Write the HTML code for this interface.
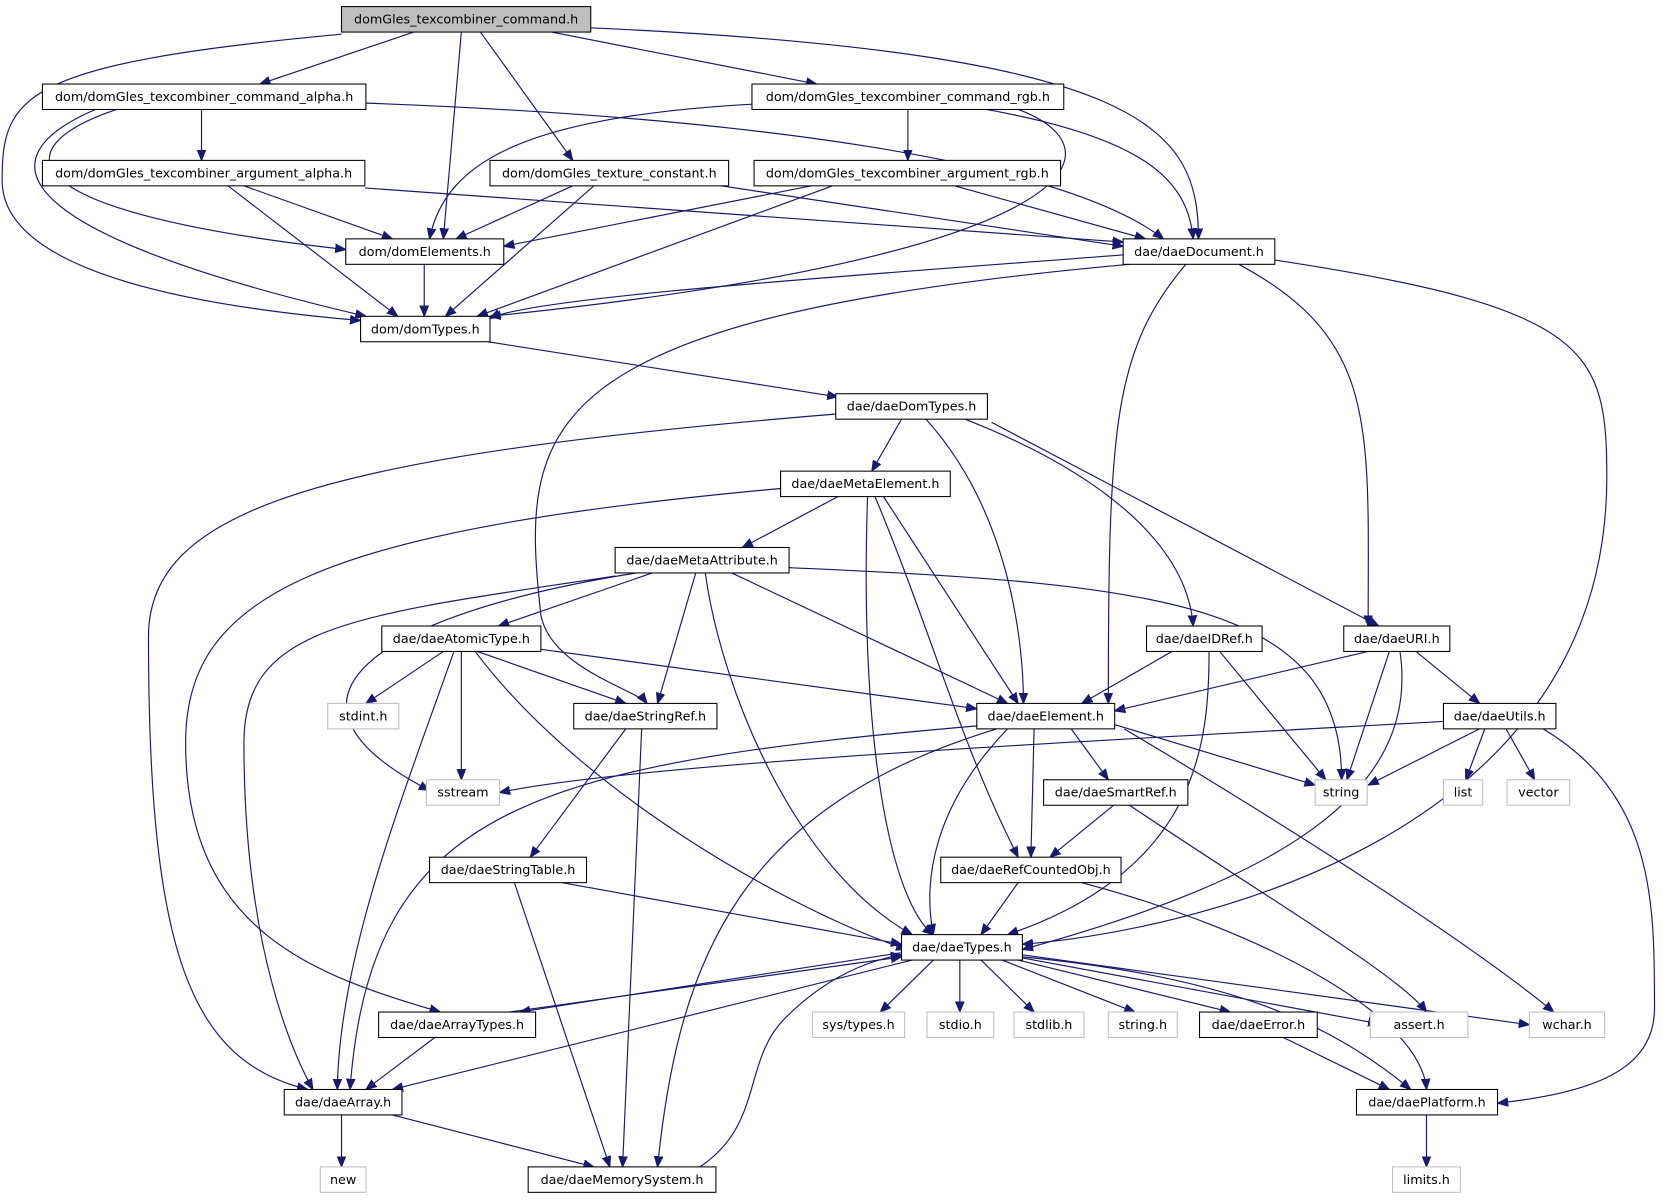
<!DOCTYPE html>
<html><head><meta charset="utf-8"><style>
html,body{margin:0;padding:0;background:#fff}
svg{display:block}
text{font-family:"DejaVu Sans","Liberation Sans",sans-serif;font-size:12px;fill:#000}
.n{fill:#fff;stroke:#000;stroke-width:1}
.g{fill:#fff;stroke:#bfbfbf;stroke-width:1}
.e{fill:none;stroke:#191970;stroke-width:1.1;marker-end:url(#a)}
</style></head><body>
<svg width="1663" height="1200" viewBox="0 0 1568 1131" xmlns="http://www.w3.org/2000/svg">
<defs><marker id="a" viewBox="0 0 10 10" refX="10" refY="5" markerWidth="10" markerHeight="10" markerUnits="userSpaceOnUse" orient="auto"><path d="M0,1 L10,5 L0,9 z" fill="#191970" stroke="#191970"/></marker></defs>
<g>
<path class="e" d="M390,30 L245,79"/>
<path class="e" d="M520,30 L770,79"/>
<path class="e" d="M435,30 L418,225"/>
<path class="e" d="M453,30 L540,151"/>
<path class="e" d="M557,26 C1080,50 1130,120 1130,225"/>
<path class="e" d="M322,32 C20,60 2,90 2,170 C2,260 200,290 340,302"/>
<path class="e" d="M190,103 L190,151"/>
<path class="e" d="M345,97 C700,110 1000,150 1097,225"/>
<path class="e" d="M110,103 C0,140 10,200 326,235"/>
<path class="e" d="M90,103 C-20,150 10,220 345,298"/>
<path class="e" d="M856,103 L856,151"/>
<path class="e" d="M709,98 C500,110 420,150 405,225"/>
<path class="e" d="M930,103 C1080,130 1120,170 1125,225"/>
<path class="e" d="M960,103 C1060,140 1030,240 462,298"/>
<path class="e" d="M230,175 L370,225"/>
<path class="e" d="M215,175 L375,298"/>
<path class="e" d="M344,177 L1059,228"/>
<path class="e" d="M540,175 L430,225"/>
<path class="e" d="M560,175 L420,298"/>
<path class="e" d="M680,175 L1059,232"/>
<path class="e" d="M765,175 L475,232"/>
<path class="e" d="M785,175 L450,298"/>
<path class="e" d="M900,175 L1080,225"/>
<path class="e" d="M400,249 L400,298"/>
<path class="e" d="M1060,240 C800,260 500,280 462,300"/>
<path class="e" d="M1065,249 C500,300 490,400 510,580 C520,630 600,650 610,663"/>
<path class="e" d="M1118,249 C1050,330 1045,400 1045,663"/>
<path class="e" d="M1168,249 C1300,320 1290,400 1290,590"/>
<path class="e" d="M1202,245 C1500,290 1515,330 1515,450 C1515,800 1100,880 964,890"/>
<path class="e" d="M460,322 L790,374"/>
<path class="e" d="M850,395 L822,444"/>
<path class="e" d="M873,395 C950,480 965,600 965,663"/>
<path class="e" d="M910,395 C1050,450 1120,520 1125,590"/>
<path class="e" d="M935,398 L1300,590"/>
<path class="e" d="M790,390 C300,430 140,480 140,600 C140,900 180,1000 290,1027"/>
<path class="e" d="M790,468 L700,516"/>
<path class="e" d="M833,468 L960,663"/>
<path class="e" d="M825,468 C880,600 905,700 960,808"/>
<path class="e" d="M818,468 C810,700 840,850 880,881"/>
<path class="e" d="M740,460 C300,500 175,560 175,700 C175,880 300,920 415,954"/>
<path class="e" d="M615,540 L470,590"/>
<path class="e" d="M656,540 L620,663"/>
<path class="e" d="M690,540 L950,663"/>
<path class="e" d="M744,535 C1100,550 1265,570 1265,735"/>
<path class="e" d="M600,540 C350,580 240,660 405,745"/>
<path class="e" d="M580,543 C330,580 230,590 230,700 C230,900 280,1000 295,1027"/>
<path class="e" d="M665,540 C680,650 750,820 860,881"/>
<path class="e" d="M418,614 L345,663"/>
<path class="e" d="M435,614 L435,735"/>
<path class="e" d="M450,614 L590,663"/>
<path class="e" d="M510,612 L921,668"/>
<path class="e" d="M428,614 C380,750 320,900 318,1027"/>
<path class="e" d="M448,614 C550,750 750,860 855,895"/>
<path class="e" d="M1105,614 L1020,663"/>
<path class="e" d="M1150,614 L1250,735"/>
<path class="e" d="M1140,614 C1140,700 1130,820 950,881"/>
<path class="e" d="M1290,614 L1051,670"/>
<path class="e" d="M1310,614 L1270,735"/>
<path class="e" d="M1335,614 L1395,663"/>
<path class="e" d="M1320,614 C1340,750 1200,830 964,895"/>
<path class="e" d="M590,687 L500,808"/>
<path class="e" d="M605,687 L587,1100"/>
<path class="e" d="M1361,680 C1000,700 600,720 471,747"/>
<path class="e" d="M1051,683 L1240,740"/>
<path class="e" d="M1010,687 L1045,735"/>
<path class="e" d="M975,687 L972,808"/>
<path class="e" d="M950,687 C880,760 870,830 880,881"/>
<path class="e" d="M1060,687 C1250,800 1400,900 1465,954"/>
<path class="e" d="M935,683 C500,720 350,760 330,1027"/>
<path class="e" d="M940,687 C700,760 640,900 620,1100"/>
<path class="e" d="M1395,687 L1290,740"/>
<path class="e" d="M1400,687 L1382,735"/>
<path class="e" d="M1420,687 L1447,735"/>
<path class="e" d="M1455,687 C1560,750 1560,850 1560,950 C1560,1010 1500,1030 1412,1040"/>
<path class="e" d="M1050,759 L990,808"/>
<path class="e" d="M1065,759 C1200,850 1320,920 1345,954"/>
<path class="e" d="M530,832 L850,890"/>
<path class="e" d="M485,832 L575,1100"/>
<path class="e" d="M960,832 L925,881"/>
<path class="e" d="M1020,832 C1200,880 1340,960 1345,1027"/>
<path class="e" d="M850,898 L490,954"/>
<path class="e" d="M480,954 L850,902"/>
<path class="e" d="M880,905 L830,954"/>
<path class="e" d="M905,905 L905,954"/>
<path class="e" d="M925,905 L975,954"/>
<path class="e" d="M945,905 L1070,954"/>
<path class="e" d="M960,905 L1160,954"/>
<path class="e" d="M964,903 L1300,965"/>
<path class="e" d="M964,900 L1442,966"/>
<path class="e" d="M964,902 C1150,920 1250,960 1330,1027"/>
<path class="e" d="M860,905 L370,1027"/>
<path class="e" d="M410,978 L345,1027"/>
<path class="e" d="M322,1051 L322,1100"/>
<path class="e" d="M370,1051 L560,1100"/>
<path class="e" d="M1345,1051 L1345,1100"/>
<path class="e" d="M660,1100 C720,1060 700,1000 740,960 C780,920 820,905 850,900"/>
<path class="e" d="M1210,978 L1310,1027"/>
</g>
<g>
<rect x="322" y="6" width="235" height="24" fill="#bfbfbf" stroke="#000"/><text x="439.5" y="22" text-anchor="middle">domGles_texcombiner_command.h</text>
<rect class="n" x="40" y="79" width="305" height="24"/><text x="192.5" y="95" text-anchor="middle">dom/domGles_texcombiner_command_alpha.h</text>
<rect class="n" x="709" y="79" width="294" height="24"/><text x="856" y="95" text-anchor="middle">dom/domGles_texcombiner_command_rgb.h</text>
<rect class="n" x="40" y="151" width="304" height="24"/><text x="192" y="167" text-anchor="middle">dom/domGles_texcombiner_argument_alpha.h</text>
<rect class="n" x="462" y="151" width="225" height="24"/><text x="574.5" y="167" text-anchor="middle">dom/domGles_texture_constant.h</text>
<rect class="n" x="711" y="151" width="289" height="24"/><text x="855.5" y="167" text-anchor="middle">dom/domGles_texcombiner_argument_rgb.h</text>
<rect class="n" x="326" y="225" width="149" height="24"/><text x="400.5" y="241" text-anchor="middle">dom/domElements.h</text>
<rect class="n" x="1059" y="225" width="143" height="24"/><text x="1130.5" y="241" text-anchor="middle">dae/daeDocument.h</text>
<rect class="n" x="340" y="298" width="122" height="24"/><text x="401" y="314" text-anchor="middle">dom/domTypes.h</text>
<rect class="n" x="788" y="371" width="143" height="24"/><text x="859.5" y="387" text-anchor="middle">dae/daeDomTypes.h</text>
<rect class="n" x="736" y="444" width="160" height="24"/><text x="816" y="460" text-anchor="middle">dae/daeMetaElement.h</text>
<rect class="n" x="580" y="516" width="164" height="24"/><text x="662" y="532" text-anchor="middle">dae/daeMetaAttribute.h</text>
<rect class="n" x="360" y="590" width="150" height="24"/><text x="435" y="606" text-anchor="middle">dae/daeAtomicType.h</text>
<rect class="n" x="1081" y="590" width="109" height="24"/><text x="1135.5" y="606" text-anchor="middle">dae/daeIDRef.h</text>
<rect class="n" x="1267" y="590" width="100" height="24"/><text x="1317" y="606" text-anchor="middle">dae/daeURI.h</text>
<rect class="g" x="309" y="663" width="67" height="24"/><text x="342.5" y="679" text-anchor="middle">stdint.h</text>
<rect class="n" x="541" y="663" width="135" height="24"/><text x="608.5" y="679" text-anchor="middle">dae/daeStringRef.h</text>
<rect class="n" x="921" y="663" width="130" height="24"/><text x="986" y="679" text-anchor="middle">dae/daeElement.h</text>
<rect class="n" x="1361" y="663" width="106" height="24"/><text x="1414" y="679" text-anchor="middle">dae/daeUtils.h</text>
<rect class="g" x="402" y="735" width="69" height="24"/><text x="436.5" y="751" text-anchor="middle">sstream</text>
<rect class="g" x="1240" y="735" width="49" height="24"/><text x="1264.5" y="751" text-anchor="middle">string</text>
<rect class="g" x="1361" y="735" width="37" height="24"/><text x="1379.5" y="751" text-anchor="middle">list</text>
<rect class="g" x="1421" y="735" width="59" height="24"/><text x="1450.5" y="751" text-anchor="middle">vector</text>
<rect class="n" x="984" y="735" width="136" height="24"/><text x="1052" y="751" text-anchor="middle">dae/daeSmartRef.h</text>
<rect class="n" x="405" y="808" width="148" height="24"/><text x="479" y="824" text-anchor="middle">dae/daeStringTable.h</text>
<rect class="n" x="887" y="808" width="170" height="24"/><text x="972" y="824" text-anchor="middle">dae/daeRefCountedObj.h</text>
<rect class="n" x="850" y="881" width="114" height="24"/><text x="907" y="897" text-anchor="middle">dae/daeTypes.h</text>
<rect class="n" x="357" y="954" width="148" height="24"/><text x="431" y="970" text-anchor="middle">dae/daeArrayTypes.h</text>
<rect class="g" x="766" y="954" width="87" height="24"/><text x="809.5" y="970" text-anchor="middle">sys/types.h</text>
<rect class="g" x="874" y="954" width="63" height="24"/><text x="905.5" y="970" text-anchor="middle">stdio.h</text>
<rect class="g" x="956" y="954" width="66" height="24"/><text x="989" y="970" text-anchor="middle">stdlib.h</text>
<rect class="g" x="1045" y="954" width="65" height="24"/><text x="1077.5" y="970" text-anchor="middle">string.h</text>
<rect class="n" x="1131" y="954" width="111" height="24"/><text x="1186.5" y="970" text-anchor="middle">dae/daeError.h</text>
<rect class="g" x="1292" y="954" width="92" height="24"/><text x="1338" y="970" text-anchor="middle">assert.h</text>
<rect class="g" x="1442" y="954" width="71" height="24"/><text x="1477.5" y="970" text-anchor="middle">wchar.h</text>
<rect class="n" x="268" y="1027" width="111" height="24"/><text x="323.5" y="1043" text-anchor="middle">dae/daeArray.h</text>
<rect class="n" x="1279" y="1027" width="133" height="24"/><text x="1345.5" y="1043" text-anchor="middle">dae/daePlatform.h</text>
<rect class="g" x="302" y="1100" width="43" height="24"/><text x="323.5" y="1116" text-anchor="middle">new</text>
<rect class="n" x="498" y="1100" width="177" height="24"/><text x="586.5" y="1116" text-anchor="middle">dae/daeMemorySystem.h</text>
<rect class="g" x="1313" y="1100" width="64" height="24"/><text x="1345" y="1116" text-anchor="middle">limits.h</text>
</g>
</svg>
</body></html>
